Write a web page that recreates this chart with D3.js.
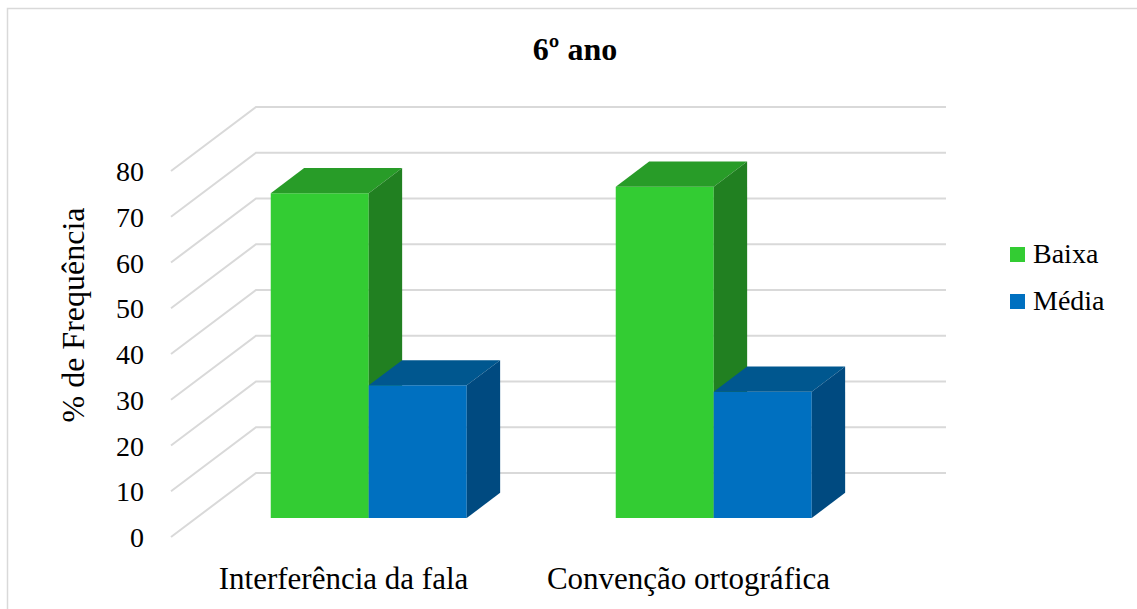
<!DOCTYPE html>
<html>
<head>
<meta charset="utf-8">
<script src="https://cdn.jsdelivr.net/npm/d3@7"></script>
</head>
<body style="margin:0;background:#fff">
<svg id="chart" width="1137" height="609" style="display:block"></svg>
<script>
// data
const categories = ["Interferência da fala", "Convenção ortográfica"];
const seriesNames = ["Baixa", "Média"];
const baixa = [71, 72.4];
const media = [29, 27.6];
const yTicks = [0, 10, 20, 30, 40, 50, 60, 70, 80];

const colors = {
  Baixa: { front: "#33cc33", top: "#289c28", side: "#218021" },
  "Média": { front: "#0070c0", top: "#00578f", side: "#004a80" }
};

const fontSerif = '"Liberation Serif", "Times New Roman", serif';
const svg = d3.select("#chart");

// outer frame (only top/left edge visible)
svg.append("rect")
  .attr("x", 7.5).attr("y", 8.5)
  .attr("width", 1200).attr("height", 700)
  .attr("fill", "#fff").attr("stroke", "#d9d9d9").attr("stroke-width", 1.5);

// 3d geometry
const depthX = 85, depthY = -64;      // full depth offset of the floor
const frontLeft = 171, frontRight = 861;
const y = d3.scaleLinear().domain([0, 80]).range([537, 171]);
const x0 = d3.scaleBand().domain(categories).range([frontLeft, frontRight]);
const groupW = 196;
const x1 = d3.scaleBand().domain(seriesNames).range([0, groupW]);
const barD0 = 0.297, barD1 = 0.69;

function pt(px, v, d) {
  return [px + depthX * d, y(v) + depthY * d];
}

// gridlines: side wall diagonal + back wall
const grid = svg.append("g").attr("stroke", "#d9d9d9").attr("stroke-width", 2).attr("fill", "none");
yTicks.forEach(t => {
  const a = pt(frontLeft, t, 0), b = pt(frontLeft, t, 1), c = pt(frontRight, t, 1);
  grid.append("path").attr("d", d3.line()([a, b, c]));
});

// y tick labels
svg.selectAll("text.tick").data(yTicks).join("text")
  .attr("class", "tick")
  .attr("x", 144).attr("y", d => y(d) + 10)
  .attr("text-anchor", "end")
  .attr("font-size", 28)
  .style("font-family", fontSerif)
  .text(d => d);

// y title
svg.append("text")
  .attr("transform", "translate(84,315) rotate(-90)")
  .attr("text-anchor", "middle")
  .attr("font-size", 32)
  .style("font-family", fontSerif)
  .text("% de Frequência");

// bars
const bars = [];
categories.forEach((c, i) => {
  bars.push({ cat: c, s: "Baixa", v: baixa[i] });
  bars.push({ cat: c, s: "Média", v: media[i] });
});

const gBars = svg.append("g");
bars.forEach(b => {
  const xl = x0(b.cat) + (x0.bandwidth() - groupW) / 2 + x1(b.s);
  const xr = xl + x1.bandwidth();
  const col = colors[b.s];
  const line = d3.line();
  const front = [pt(xl, 0, barD0), pt(xr, 0, barD0), pt(xr, b.v, barD0), pt(xl, b.v, barD0)];
  const top = [pt(xl, b.v, barD0), pt(xr, b.v, barD0), pt(xr, b.v, barD1), pt(xl, b.v, barD1)];
  const side = [pt(xr, 0, barD0), pt(xr, 0, barD1), pt(xr, b.v, barD1), pt(xr, b.v, barD0)];
  gBars.append("path").attr("d", line(front) + "Z").attr("fill", col.front);
  gBars.append("path").attr("d", line(top) + "Z").attr("fill", col.top);
  gBars.append("path").attr("d", line(side) + "Z").attr("fill", col.side);
});

// category labels
svg.selectAll("text.cat").data(categories).join("text")
  .attr("class", "cat")
  .attr("x", d => x0(d) + x0.bandwidth() / 2)
  .attr("y", 589)
  .attr("text-anchor", "middle")
  .attr("font-size", 31)
  .style("font-family", fontSerif)
  .text(d => d);

// title
svg.append("text")
  .attr("x", 575).attr("y", 60)
  .attr("text-anchor", "middle")
  .attr("font-size", 32).attr("font-weight", "bold")
  .style("font-family", fontSerif)
  .text("6º ano");

// legend
const legend = svg.selectAll("g.leg").data(seriesNames).join("g")
  .attr("class", "leg")
  .attr("transform", (d, i) => `translate(1010,${247 + i * 47})`);
legend.append("rect").attr("width", 15).attr("height", 15).attr("fill", d => colors[d].front);
legend.append("text").attr("x", 23).attr("y", 16)
  .attr("font-size", 28)
  .style("font-family", fontSerif)
  .text(d => d);
</script>
</body>
</html>
